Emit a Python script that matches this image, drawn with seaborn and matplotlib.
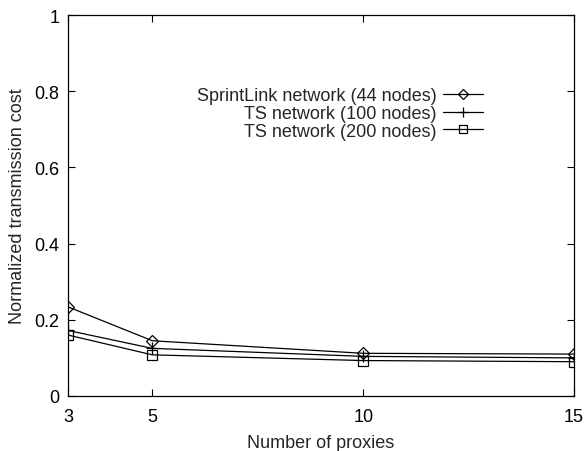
import matplotlib
matplotlib.use("Agg")
import matplotlib.pyplot as plt
import seaborn as sns
import pandas as pd

proxies = [3, 5, 10, 15]
sprintlink = [0.234, 0.145, 0.112, 0.110]
ts100 = [0.172, 0.125, 0.104, 0.100]
ts200 = [0.160, 0.108, 0.093, 0.090]
labels = ["SprintLink network (44 nodes)", "TS network (100 nodes)", "TS network (200 nodes)"]
markers = ["D", "+", "s"]
msizes = [6.0, 8.0, 7.0]

sns.set_theme(style="ticks")
plt.rcParams['font.family'] = ['Liberation Sans', 'DejaVu Sans']

rows = []
for lab, vals in zip(labels, [sprintlink, ts100, ts200]):
    for x, y in zip(proxies, vals):
        rows.append({"proxies": x, "cost": y, "series": lab})
df = pd.DataFrame(rows)

fig = plt.figure(figsize=(5.84, 4.52), dpi=100)
ax = fig.add_axes([0.1164, 0.1217, 0.983 - 0.1164, 0.9646 - 0.1217])

for lab, m, ms in zip(labels, markers, msizes):
    sub = df[df.series == lab]
    sns.lineplot(data=sub, x="proxies", y="cost", ax=ax, color="black", lw=0.9,
                 marker=m, markersize=ms, markerfacecolor="none",
                 markeredgecolor="black", markeredgewidth=0.9, label=lab)

ax.set_xlim(3, 15)
ax.set_ylim(0, 1)
ax.set_xticks(proxies)
ax.set_yticks([0, 0.2, 0.4, 0.6, 0.8, 1.0])
ax.set_yticklabels(["0", "0.2", "0.4", "0.6", "0.8", "1"])
ax.tick_params(direction="in", top=True, right=True, length=5, width=0.8,
               labelsize=13, colors="black")
ax.tick_params(axis="x", pad=9)
ax.tick_params(axis="y", pad=6)
for s in ax.spines.values():
    s.set_linewidth(0.9)
    s.set_color("black")
ax.set_xlabel("Number of proxies", fontsize=13, labelpad=6)
ax.set_ylabel("Normalized transmission cost", fontsize=13, labelpad=6)

leg = ax.legend(loc="upper right", bbox_to_anchor=(0.834, 0.83), frameon=False,
                markerfirst=False, fontsize=13, handlelength=2.2, handletextpad=0.35,
                labelspacing=0.05, borderaxespad=0, markerscale=0.85)
for t in leg.get_texts():
    t.set_ha("right")
leg._legend_box.align = "right"

fig.savefig("out.png", dpi=100)
